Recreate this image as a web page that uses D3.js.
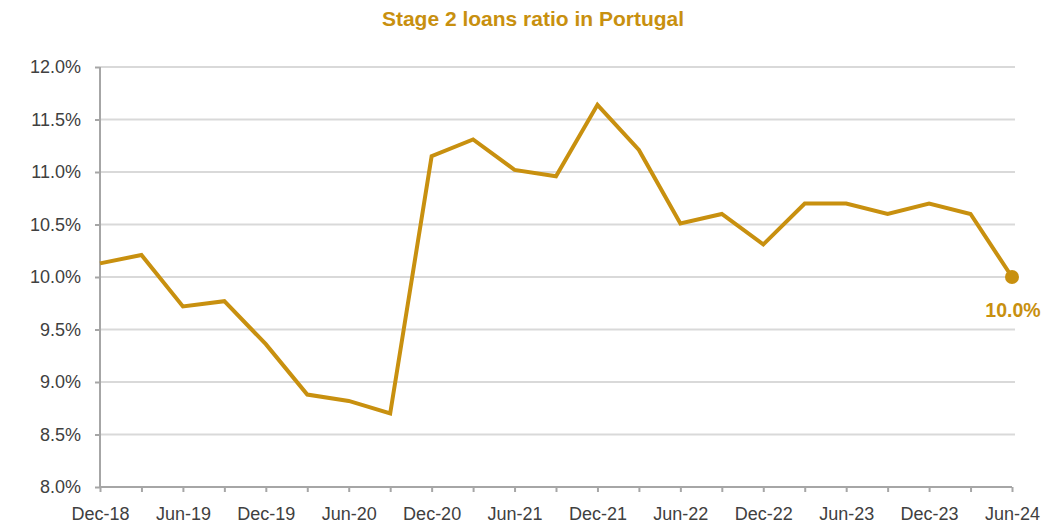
<!DOCTYPE html>
<html>
<head>
<meta charset="utf-8">
<script src="https://cdn.jsdelivr.net/npm/d3@7"></script>
<style>
	body { margin: 0; background: #fff; }
	.tick text { font-family: "Liberation Sans", Arial, sans-serif; font-size: 18px; fill: #404040; }
</style>
</head>
<body>
<div id="chart"></div>
<script>
var quarters = ["Dec-18", "Mar-19", "Jun-19", "Sep-19", "Dec-19", "Mar-20", "Jun-20", "Sep-20",
	"Dec-20", "Mar-21", "Jun-21", "Sep-21", "Dec-21", "Mar-22", "Jun-22", "Sep-22",
	"Dec-22", "Mar-23", "Jun-23", "Sep-23", "Dec-23", "Mar-24", "Jun-24"];
var ratio = [10.13, 10.21, 9.72, 9.77, 9.36, 8.88, 8.82, 8.70,
	11.15, 11.31, 11.02, 10.96, 11.64, 11.21, 10.51, 10.60,
	10.31, 10.70, 10.70, 10.60, 10.70, 10.60, 10.00];
var yTicks = [8.0, 8.5, 9.0, 9.5, 10.0, 10.5, 11.0, 11.5, 12.0];
var title = "Stage 2 loans ratio in Portugal";

var w = 1062,
	h = 523,
	plotLeft = 100,
	plotRight = 1012,
	plotTop = 67,
	plotBottom = 487,
	gold = "#C8900F";

var svg = d3.select("#chart")
	.append("svg")
	.attr("width", w)
	.attr("height", h);

var x = d3.scalePoint()
	.domain(quarters)
	.range([plotLeft, plotRight]);

var y = d3.scaleLinear()
	.domain([8, 12])
	.range([plotBottom, plotTop]);

// gridlines
svg.selectAll(".grid")
	.data(yTicks.slice(1))
	.enter().append("line")
	.attr("class", "grid")
	.attr("x1", plotLeft)
	.attr("x2", plotRight + 3)
	.attr("y1", function(d) { return y(d); })
	.attr("y2", function(d) { return y(d); })
	.style("stroke", "#d9d9d9")
	.style("stroke-width", 2);

// y axis
var yAxis = svg.append("g")
	.attr("transform", "translate(" + plotLeft + ",0)")
	.call(d3.axisLeft(y)
		.tickValues(yTicks)
		.tickSize(5)
		.tickPadding(14)
		.tickFormat(function(d) { return d.toFixed(1) + "%"; }));

// x axis: tick at every quarter, label every other one
var xAxis = svg.append("g")
	.attr("transform", "translate(0," + plotBottom + ")")
	.call(d3.axisBottom(x)
		.tickSize(5)
		.tickPadding(12)
		.tickFormat(function(d, i) { return i % 2 == 0 ? d : ""; }));

[yAxis, xAxis].forEach(function(a) {
	a.select(".domain").style("stroke", "#a6a6a6").style("stroke-width", 2);
	a.selectAll(".tick line").style("stroke", "#a6a6a6").style("stroke-width", 2);
});
yAxis.select(".domain").attr("d", "M0," + plotBottom + "V" + plotTop);
xAxis.select(".domain").attr("d", "M" + plotLeft + ",0H" + plotRight);
xAxis.selectAll(".tick text").attr("dy", "0.9em");

// line
var line = d3.line()
	.x(function(d, i) { return x(quarters[i]); })
	.y(function(d) { return y(d); });

svg.append("path")
	.datum(ratio)
	.attr("d", line)
	.style("fill", "none")
	.style("stroke", gold)
	.style("stroke-width", 4)
	.style("stroke-linejoin", "miter");

// last point marker + label
var last = ratio.length - 1;
svg.append("circle")
	.attr("cx", x(quarters[last]))
	.attr("cy", y(ratio[last]))
	.attr("r", 7)
	.style("fill", gold);

svg.append("text")
	.attr("x", x(quarters[last]) + 1)
	.attr("y", y(ratio[last]) + 40)
	.attr("text-anchor", "middle")
	.style("font-family", "'Liberation Sans', Arial, sans-serif")
	.style("font-size", "19.5px")
	.style("font-weight", "bold")
	.style("fill", gold)
	.text(ratio[last].toFixed(1) + "%");

// title
svg.append("text")
	.attr("x", 533)
	.attr("y", 26)
	.attr("text-anchor", "middle")
	.style("font-family", "'Liberation Sans', Arial, sans-serif")
	.style("font-size", "21px")
	.style("font-weight", "bold")
	.style("fill", gold)
	.text(title);
</script>
</body>
</html>
